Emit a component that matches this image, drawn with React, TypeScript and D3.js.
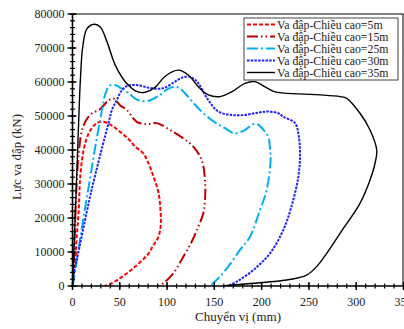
import React from "react";
import * as d3 from "d3";

type P = [number, number];

const xTicks = [0, 50, 100, 150, 200, 250, 300, 350];
const yTicks = [0, 10000, 20000, 30000, 40000, 50000, 60000, 70000, 80000];

const seriesNames = [
  "Va đập-Chiều cao=5m",
  "Va đập-Chiều cao=15m",
  "Va đập-Chiều cao=25m",
  "Va đập-Chiều cao=30m",
  "Va đập-Chiều cao=35m",
];

const h5m: P[] = [[0,0],[1,2900],[3,6800],[4.2,13500],[6.6,22400],[8.2,32100],[11.8,40000],[17.1,44900],[24.1,47600],[29.4,48300],[35.4,48100],[43.1,46900],[52.3,44900],[60,43000],[66.4,41000],[74.9,39000],[80,36300],[85.8,32100],[91,27300],[93,22400],[93.3,17800],[90.5,14200],[85,11800],[80.5,9600],[66.4,5700],[52.3,2700],[40,600],[33.3,0]];

const h15m: P[] = [[0,0],[0.8,1760],[2.6,17400],[4.4,30300],[6.9,40000],[11.1,46800],[18.5,50300],[29.4,52100],[38.3,54600],[43.6,55100],[50.5,53100],[57.3,51800],[67.9,48300],[78.5,47600],[89,47900],[103.1,45900],[117.2,43400],[127.7,41000],[136.6,37100],[140.1,31200],[140.1,25300],[138.3,21400],[133,17400],[126,13000],[117.2,8600],[106.6,3700],[96,800],[90.7,0]];

const h25m: P[] = [[0,0],[1.3,1760],[10,17400],[17.1,29200],[24.1,41000],[31.2,51800],[34.4,56200],[38.6,58700],[42,59200],[46,59000],[50.5,58300],[58.7,56900],[68.2,54800],[79.5,54400],[92.5,56200],[100,57800],[108.4,58600],[114,58000],[118.9,56700],[133,52300],[147.2,48800],[161.3,46400],[171.8,44900],[182.4,45900],[191,47600],[196,47500],[201.8,46000],[207,43900],[209,40000],[209.5,37000],[205.3,28200],[198.3,22400],[187.7,14500],[177.1,10600],[164.7,5700],[154.2,2260],[145.4,0]];

const h30m: P[] = [[0,0],[2,5000],[4.4,7600],[20,28000],[38.3,48200],[42,52000],[47,54800],[52.3,57600],[59.4,59000],[70,59000],[80.6,58300],[91.1,58000],[98,58400],[108.4,60100],[116,61300],[122.4,61600],[128,61000],[133,59600],[143.6,54700],[154.2,51300],[168.3,50300],[182.4,50300],[196.5,51000],[207,51300],[217.6,50800],[222.9,49800],[235.3,47900],[238.8,44900],[240.6,39000],[238.8,32100],[231,22900],[222.9,16500],[208.8,9600],[191.2,4700],[173.6,1260],[164.7,0]];

const h35m: P[] = [[0,0],[3.5,25000],[6.6,49000],[8.4,61000],[10.8,70300],[15.3,75700],[23,77000],[29.4,76200],[36.5,71800],[45.3,64900],[57.6,59500],[70,57000],[77,57000],[87.6,58500],[98,61700],[111.9,63500],[122.4,62060],[133,58600],[143.6,56200],[156,55700],[168.3,57100],[182.4,59600],[193,60100],[203.6,58600],[214.2,57100],[240,56500],[261.7,56200],[282.9,55700],[290,55200],[304,50800],[314.6,45900],[321.7,40000],[319.9,36100],[314.6,31200],[304,24300],[282.9,15500],[268.8,9600],[258.2,5700],[247.6,3200],[226.5,1760],[191.2,800],[166.5,200],[160,0]];

const seriesData = [h5m, h15m, h25m, h30m, h35m];
const colors = ["#ff0000", "#c00000", "#00b0f0", "#2020ff", "#000000"];
const dashes = ["4,2", "11,3,1.5,3,1.5,3", "11,3,2,3", "2.5,1.2", "none"];
const widths = [2, 2, 2, 2, 1.4];

const W = 404, H = 329;
const L = 72.5, R = 403.5, T = 14, B = 286;
const FONT = "'Liberation Serif', 'Times New Roman', serif";

export default function App() {
  const x = d3.scaleLinear().domain([0, 350]).range([L, R]);
  const y = d3.scaleLinear().domain([0, 80000]).range([B, T]);
  const line = d3.line<P>().x(d => x(d[0])).y(d => y(d[1])).curve(d3.curveCatmullRom.alpha(0.5));
  const xMinor = d3.range(0, 351, 10);
  const yMinor = d3.range(0, 80001, 2000);

  return (
    <svg width={W} height={H} style={{ position: "absolute", left: 0, top: 0, background: "#fff" }} fontFamily={FONT}>
      <rect x={0} y={0} width={W} height={H} fill="#fff" />
      <defs>
        <clipPath id="pc"><rect x={L} y={T} width={R - L} height={B - T} /></clipPath>
      </defs>
      <line x1={L} x2={R} y1={T} y2={T} stroke="#000" strokeWidth={1} />
      <line x1={R - 0.5} x2={R - 0.5} y1={T} y2={B} stroke="#000" strokeWidth={1} />
      <g clipPath="url(#pc)">
        {seriesData.map((d, i) => (
          <path key={i} d={line(d) || ""} fill="none" stroke={colors[i]} strokeWidth={widths[i]}
            strokeDasharray={dashes[i]} />
        ))}
      </g>
      <line x1={L} x2={R} y1={B} y2={B} stroke="#000" strokeWidth={1.6} />
      <line x1={L} x2={L} y1={T} y2={B} stroke="#000" strokeWidth={1.6} />
      {yMinor.map(v => (
        <line key={"ym" + v} x1={L - 2.5} x2={L + 2.5} y1={y(v)} y2={y(v)} stroke="#000" strokeWidth={1.2} />
      ))}
      {yTicks.map(v => (
        <line key={"yt" + v} x1={L - 5} x2={L + 4} y1={y(v)} y2={y(v)} stroke="#000" strokeWidth={1.4} />
      ))}
      {xMinor.map(v => (
        <line key={"xm" + v} x1={x(v)} x2={x(v)} y1={B - 2.5} y2={B + 2.5} stroke="#000" strokeWidth={1.2} />
      ))}
      {xTicks.map(v => (
        <line key={"xt" + v} x1={x(v)} x2={x(v)} y1={B - 4} y2={B + 4} stroke="#000" strokeWidth={1.4} />
      ))}
      {yTicks.map(v => (
        <text key={"yl" + v} x={L - 8} y={y(v)} dy="0.35em" textAnchor="end" fontSize={12} fill="#222">{v}</text>
      ))}
      {xTicks.map(v => (
        <text key={"xl" + v} x={x(v)} y={B + 20} textAnchor="middle" fontSize={12} fill="#222">{v}</text>
      ))}
      <text x={238} y={321} textAnchor="middle" fontSize={13} fill="#222">Chuyển vị (mm)</text>
      <text transform={`translate(21,157) rotate(-90)`} textAnchor="middle" fontSize={13} fill="#222">Lực va đập (kN)</text>
      <rect x={244} y={18} width={154} height={62} fill="#fff" stroke="#444" strokeWidth={1} />
      {seriesNames.map((n, i) => {
        const cy = 24.5 + i * 12;
        return (
          <g key={"lg" + i}>
            <line x1={247} x2={275} y1={cy} y2={cy} stroke={colors[i]} strokeWidth={widths[i]} strokeDasharray={dashes[i]} />
            <text x={277} y={cy} dy="0.35em" fontSize={11.8} fill="#222">{n}</text>
          </g>
        );
      })}
    </svg>
  );
}
